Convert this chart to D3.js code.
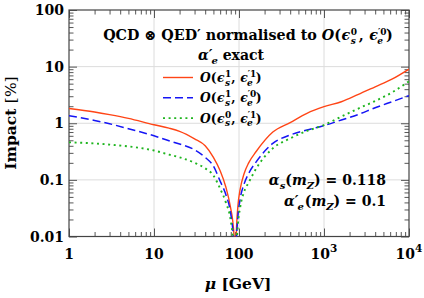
<!DOCTYPE html>
<html><head><meta charset="utf-8">
<script src="https://cdn.jsdelivr.net/npm/d3@7"></script>
<style>
html,body{margin:0;padding:0;background:#fff;}
</style></head>
<body><svg id="c" width="424" height="298" font-family="'DejaVu Serif','Liberation Serif','Noto Serif',FreeSerif,Times,serif"></svg>
<script>
const mu    = [1,2,3,5,10,15,20,30,40,50,60,70,80,85,89,91.19,93,97,103,115,130,160,250,400,630,1000,1600,2500,4000,6300,10000];
const red   = [1.82,1.58,1.42,1.22,0.94,0.82,0.72,0.53,0.40,0.25,0.145,0.075,0.031,0.017,0.006,0.0015,0.011,0.034,0.067,0.13,0.2,0.32,0.70,1.03,1.5,1.96,2.4,3.2,4.4,6.0,9.05];
const blue  = [1.36,1.12,0.98,0.8,0.6,0.49,0.43,0.34,0.25,0.175,0.095,0.055,0.025,0.012,0.004,0.001,0.007,0.022,0.045,0.085,0.13,0.21,0.44,0.62,0.76,0.91,1.14,1.42,1.88,2.4,3.07];
const green = [0.46,0.44,0.42,0.39,0.33,0.28,0.25,0.20,0.16,0.12,0.07,0.04,0.019,0.009,0.003,0.001,0.005,0.016,0.032,0.062,0.09,0.16,0.36,0.54,0.73,0.93,1.31,1.8,2.47,3.5,5.5];
const xTicks = [1,10,100,1000,10000];
const xTickLabels = [["1"],["10"],["100"],["10","3"],["10","4"]];
const yTicks = [0.01,0.1,1,10,100];
const yTickLabels = ["0.01","0.1","1","10","100"];

const L=69,R=409,T=10,B=236.5;
const svg=d3.select("#c");
const x=d3.scaleLog().domain([1,1e4]).range([L,R]);
const y=d3.scaleLog().domain([0.01,100]).range([B,T]);
const axisCol="#444";

// grid
const g0=svg.append("g");
g0.selectAll("line.gx").data([10,100,1000]).join("line")
  .attr("x1",d=>x(d)).attr("x2",d=>x(d)).attr("y1",T).attr("y2",B)
  .attr("stroke","#dcdcdc").attr("stroke-width",1);
g0.selectAll("line.gy").data([0.1,1,10]).join("line")
  .attr("y1",d=>y(d)).attr("y2",d=>y(d)).attr("x1",L).attr("x2",R)
  .attr("stroke","#dcdcdc").attr("stroke-width",1);

function minors(a,b){const m=[];for(let e=a;e<b;e++)for(let k=2;k<=9;k++)m.push(k*Math.pow(10,e));return m;}
const xMin=minors(0,4), yMin=minors(-2,2);
function styleAxis(g){g.select(".domain").remove();g.selectAll("text").remove();g.selectAll("line").attr("stroke",axisCol).attr("stroke-width",0.9);}
svg.append("g").attr("transform",`translate(0,${B})`).call(d3.axisBottom(x).tickValues(xMin).tickSize(-4.5)).call(styleAxis);
svg.append("g").attr("transform",`translate(0,${B})`).call(d3.axisBottom(x).tickValues(xTicks).tickSize(-8)).call(styleAxis);
svg.append("g").attr("transform",`translate(0,${T})`).call(d3.axisTop(x).tickValues(xMin).tickSize(-4.5)).call(styleAxis);
svg.append("g").attr("transform",`translate(0,${T})`).call(d3.axisTop(x).tickValues(xTicks).tickSize(-8)).call(styleAxis);
svg.append("g").attr("transform",`translate(${L},0)`).call(d3.axisLeft(y).tickValues(yMin).tickSize(-4.5)).call(styleAxis);
svg.append("g").attr("transform",`translate(${L},0)`).call(d3.axisLeft(y).tickValues(yTicks).tickSize(-8)).call(styleAxis);
svg.append("g").attr("transform",`translate(${R},0)`).call(d3.axisRight(y).tickValues(yMin).tickSize(-4.5)).call(styleAxis);
svg.append("g").attr("transform",`translate(${R},0)`).call(d3.axisRight(y).tickValues(yTicks).tickSize(-8)).call(styleAxis);

// frame
svg.append("rect").attr("x",L).attr("y",T).attr("width",R-L).attr("height",B-T)
  .attr("fill","none").attr("stroke",axisCol).attr("stroke-width",1.2);

// clip
svg.append("defs").append("clipPath").attr("id","clp").append("rect")
  .attr("x",L).attr("y",T).attr("width",R-L).attr("height",B-T);

const line=d3.line().x(d=>x(d[0])).y(d=>y(d[1])).curve(d3.curveMonotoneX);
const series=[
  {v:red,  col:"#ff4516", dash:null,   w:1.4},
  {v:blue, col:"#1515f5", dash:"8,4",  w:1.5},
  {v:green,col:"#1fb51f", dash:"2,3.6",w:1.9}
];
const gl=svg.append("g").attr("clip-path","url(#clp)");
series.forEach(s=>{
  gl.append("path").attr("d",line(mu.map((m,i)=>[m,s.v[i]])))
    .attr("fill","none").attr("stroke",s.col).attr("stroke-width",s.w)
    .attr("stroke-dasharray",s.dash);
});

// rich text helper
function rich(x0,y0,parts,size,anchor,weight){
  const t=svg.append("text").attr("x",x0).attr("y",y0).attr("font-size",size)
    .attr("text-anchor",anchor||"start").attr("font-weight",weight||"bold");
  let cur=0, lastW=0;
  parts.forEach(p=>{
    const sh=p.sh||0;
    const ts=t.append("tspan").text(p.t);
    if(p.it) ts.attr("font-style","italic");
    if(p.w) ts.attr("font-weight",p.w);
    if(p.fs) ts.attr("font-size",p.fs);
    if(sh!==cur){ts.attr("dy",-(sh-cur));cur=sh;}
    let dx=0;
    if(p.back) dx-=lastW;
    if(p.dx) dx+=p.dx;
    if(dx) ts.attr("dx",dx);
    lastW=ts.node().getComputedTextLength();
  });
  return t;
}

// tick labels
yTicks.forEach((v,i)=>{
  svg.append("text").attr("x",64).attr("y",y(v)+5).attr("text-anchor","end")
    .attr("font-size",14).attr("font-weight","bold").text(yTickLabels[i]);
});
xTicks.forEach((v,i)=>{
  const lab=xTickLabels[i];
  const parts=[{t:lab[0]}];
  if(lab[1]) parts.push({t:lab[1],sh:6.5,fs:10.5});
  rich(x(v),B+22,parts,14,"middle");
});

// axis titles
rich(238,B+52,[{t:"μ",it:1},{t:" [GeV]"}],15.5,"middle");
const yl=svg.append("text").attr("transform",`translate(16,123) rotate(-90)`)
  .attr("text-anchor","middle").attr("font-size",15.5);
yl.append("tspan").attr("font-weight","bold").text("Impact ");
yl.append("tspan").attr("font-weight","normal").text("[%]");

// title
const eps=(a,b)=>[{t:"ϵ",it:1,dx:0.5},{t:a,sh:5,fs:9,it:0,dx:0.5},{t:b,sh:-3.5,fs:9,it:1,back:1}];
const epsP=(a,b)=>[{t:"ϵ",it:1,dx:0.5},{t:"′",sh:5,fs:9,it:0},{t:a,sh:5,fs:9,it:0},{t:b,sh:-3.5,fs:9,it:1,back:1,dx:-3}];
rich(248,40,[{t:"QCD ⊗ QED′ normalised to "},{t:"O",it:1},{t:"("},...eps("0","s"),{t:", ",sh:0,dx:3},...epsP("0","e"),{t:")",sh:0,dx:3}],14.3,"middle");
rich(231,60,[{t:"α′",it:1},{t:"e",sh:-3.5,fs:10,it:1,dx:-1},{t:" exact",sh:0}],14,"middle");

// legend
const legRows=[["1","1"],["1","0"],["0","1"]];
legRows.forEach((r,i)=>{
  const yy=77.5+i*20.3;
  const s=series[i];
  svg.append("line").attr("x1",163).attr("x2",193).attr("y1",yy).attr("y2",yy)
    .attr("stroke",s.col).attr("stroke-width",s.w).attr("stroke-dasharray",s.dash);
  rich(200,yy+4.5,[{t:"O",it:1},{t:"("},...eps(r[0],"s"),{t:", ",sh:0,dx:1},...epsP(r[1],"e"),{t:")",sh:0,dx:3}],12.3,"start");
});

// annotation
rich(386,185,[{t:"α",it:1},{t:"s",sh:-3.5,fs:10,it:1},{t:"(",sh:0},{t:"m",it:1},{t:"Z",sh:-3.5,fs:10,it:1},{t:") = 0.118",sh:0}],14,"end");
rich(386,206,[{t:"α′",it:1},{t:"e",sh:-3.5,fs:10,it:1,dx:-1},{t:"(",sh:0,dx:1},{t:"m",it:1},{t:"Z",sh:-3.5,fs:10,it:1},{t:") = 0.1",sh:0}],14,"end");
</script></body></html>
